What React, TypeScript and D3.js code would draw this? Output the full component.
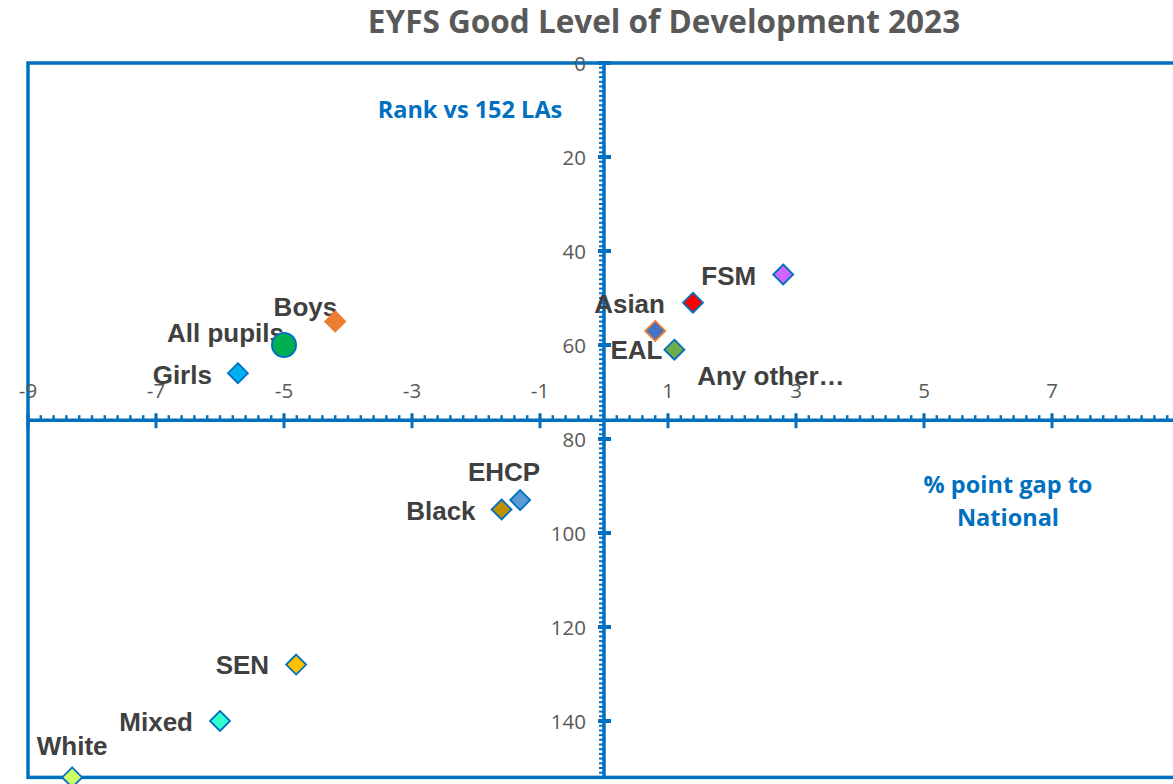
import React from 'react';
import * as d3 from 'd3';

const groups = ['All pupils', 'Boys', 'Girls', 'FSM', 'Asian', 'Any other…', 'EAL', 'EHCP', 'Black', 'SEN', 'Mixed', 'White'];
const gapToNational = [-5.0, -4.2, -5.72, 2.8, 1.39, 0.8, 1.1, -1.31, -1.6, -4.81, -6.0, -8.31];
const rankVs152 = [60, 55, 66, 45, 51, 57, 61, 93, 95, 128, 140, 152];
const xTicks = [-9, -7, -5, -3, -1, 1, 3, 5, 7];
const yTicks = [0, 20, 40, 60, 80, 100, 120, 140];

const fills = ['#00B050', '#ED7D31', '#00B0F0', '#CC66FF', '#FF0000', '#4472C4', '#70AD47', '#5B9BD5', '#BF9000', '#FFC000', '#33FFCC', '#CCFF66'];
const strokes = ['#0070C0', '#ED7D31', '#0070C0', '#0070C0', '#0070C0', '#ED7D31', '#0070C0', '#0070C0', '#0070C0', '#0070C0', '#0070C0', '#0070C0'];
const labelPlacement: [string, number, number][] = [
  ['end', 0, -12], ['end', 2, -15], ['end', -26, 2], ['end', -27, 1], ['end', -28, 1], ['start', 42, 45],
  ['end', -12, 0], ['end', 20, -28], ['end', -26, 1], ['end', -27, 0], ['end', -27, 1], ['middle', 0, -31],
];

const BLUE = '#0070C0';
const GREY = '#595959';

export default function App() {
  const W = 1173, H = 784;
  const x = d3.scaleLinear().domain([-9, 9]).range([28, 1180]);
  const y = d3.scaleLinear().domain([0, 152]).range([63, 777.4]);
  const xAxisY = y(76);
  const yAxisX = x(0);
  const xMinor = d3.range(-9, 9.001, 0.2);
  const yMinor = d3.range(0, 153, 1);
  const tickFont = "'Open Sans', sans-serif";
  return (
    <svg width={W} height={H} style={{ position: 'absolute', left: 0, top: 0, background: '#fff' }}>
      <text x={664} y={33} textAnchor="middle" fontFamily={tickFont} fontWeight={700} fontSize={31.5} fill={GREY}>
        EYFS Good Level of Development 2023
      </text>
      {/* plot border */}
      <rect x={x(-9)} y={y(0)} width={x(9) - x(-9)} height={y(152) - y(0)} fill="none" stroke={BLUE} strokeWidth={3.5} />
      {/* x axis */}
      {xMinor.map((v, i) => (
        <line key={'xm' + i} x1={x(v)} x2={x(v)} y1={xAxisY - 5} y2={xAxisY} stroke={BLUE} strokeWidth={2.5} />
      ))}
      {xTicks.map((v) => (
        <line key={'xM' + v} x1={x(v)} x2={x(v)} y1={xAxisY - 7} y2={xAxisY + 8} stroke={BLUE} strokeWidth={3} />
      ))}
      <line x1={x(-9)} x2={x(9)} y1={xAxisY} y2={xAxisY} stroke={BLUE} strokeWidth={3.5} />
      {/* y axis */}
      {yMinor.map((v, i) => (
        <line key={'ym' + i} x1={yAxisX - 5} x2={yAxisX} y1={y(v)} y2={y(v)} stroke={BLUE} strokeWidth={2} />
      ))}
      {yTicks.map((v) => (
        <line key={'yM' + v} x1={yAxisX - 6} x2={yAxisX + 7} y1={y(v)} y2={y(v)} stroke={BLUE} strokeWidth={4} />
      ))}
      <line x1={yAxisX} x2={yAxisX} y1={y(0)} y2={y(152)} stroke={BLUE} strokeWidth={3.5} />
      {xTicks.map((v) => (
        <text key={'xl' + v} x={x(v)} y={xAxisY - 30} textAnchor="middle" dominantBaseline="central" fontFamily={tickFont} fontSize={20.5} fill={GREY}>
          {v}
        </text>
      ))}
      {yTicks.map((v) => (
        <text key={'yl' + v} x={yAxisX - 18} y={y(v)} textAnchor="end" dominantBaseline="central" fontFamily={tickFont} fontSize={20.5} fill={GREY}>
          {v}
        </text>
      ))}
      <text x={470} y={109} textAnchor="middle" dominantBaseline="central" fontFamily={tickFont} fontWeight={700} fontSize={23.5} fill={BLUE}>
        Rank vs 152 LAs
      </text>
      <text x={1008} y={484} textAnchor="middle" dominantBaseline="central" fontFamily={tickFont} fontWeight={700} fontSize={23.5} fill={BLUE}>
        % point gap to
      </text>
      <text x={1008} y={517} textAnchor="middle" dominantBaseline="central" fontFamily={tickFont} fontWeight={700} fontSize={23.5} fill={BLUE}>
        National
      </text>
      {/* labels */}
      {groups.map((g, i) => {
        const [anchor, dx, dy] = labelPlacement[i];
        return (
          <text key={'lb' + i} x={x(gapToNational[i]) + dx} y={y(rankVs152[i]) + dy} textAnchor={anchor as any} dominantBaseline="central"
            fontFamily="'Liberation Sans', Arial, sans-serif" fontWeight={700} fontSize={26} fill="#404040">
            {g}
          </text>
        );
      })}
      {/* markers */}
      {groups.map((g, i) => {
        const cx = x(gapToNational[i]);
        const cy = y(rankVs152[i]);
        if (i === 0) {
          return <circle key={'mk' + i} cx={cx} cy={cy} r={12} fill={fills[i]} stroke={strokes[i]} strokeWidth={2} />;
        }
        const s = 10;
        return (
          <path key={'mk' + i} d={`M${cx},${cy - s}L${cx + s},${cy}L${cx},${cy + s}L${cx - s},${cy}Z`} fill={fills[i]} stroke={strokes[i]} strokeWidth={1.8} />
        );
      })}
    </svg>
  );
}
